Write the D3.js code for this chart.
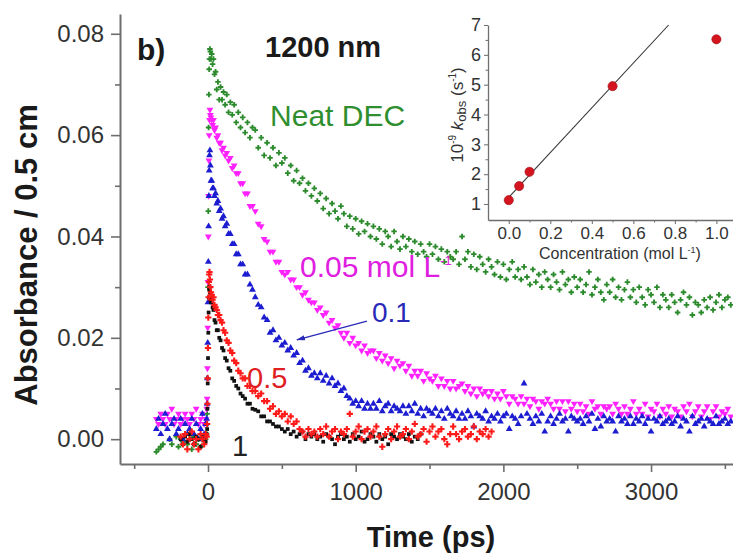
<!DOCTYPE html>
<html><head><meta charset="utf-8">
<script src="https://cdn.jsdelivr.net/npm/d3@7"></script>
<style>
body{margin:0;background:#fff}
svg{display:block}
text{font-family:"Liberation Sans",Arial,Helvetica,sans-serif}
</style>
</head><body>
<svg id="chart" width="733" height="554"></svg>
<script>
// ---------- DATA (time in ps, absorbance in units of 1e-3) ----------
const times = [
 -350,-335,-320,-305,-290,-275,-260,-245,-230,-215,-200,-185,-170,-155,-140,-125,-110,-95,-80,-65,-50,-38,-26,-16,-9,
 -6,-4,-2,0,2,4,6,8,10,13,16,20,
 25,31,37,44,51,59,67,76,85,95,105,116,127,139,151,164,177,191,205,220,235,251,267,284,301,
 320,340,360,380,400,420,440,460,480,500,
 520,540,560,580,600,620,640,660,680,700,
 720,740,760,780,800,820,840,860,880,900,
 920,940,960,980,1000,1020,1040,1060,1080,1100,
 1120,1140,1160,1180,1200,1220,1240,1260,1280,1300,
 1320,1340,1360,1380,1400,1420,1440,1460,1480,1500,
 1520,1540,1560,1580,1600,1620,1640,1660,1680,1700,
 1720,1740,1760,1780,1800,1820,1840,1860,1880,1900,
 1920,1940,1960,1980,2000,2020,2040,2060,2080,2100,
 2120,2140,2160,2180,2200,2220,2240,2260,2280,2300,
 2320,2340,2360,2380,2400,2420,2440,2460,2480,2500,
 2520,2540,2560,2580,2600,2620,2640,2660,2680,2700,
 2720,2740,2760,2780,2800,2820,2840,2860,2880,2900,
 2920,2940,2960,2980,3000,3020,3040,3060,3080,3100,
 3120,3140,3160,3180,3200,3220,3240,3260,3280,3300,
 3320,3340,3360,3380,3400,3420,3440,3460,3480,3500,
 3520,3540
];

const neatDEC = [
 -2.5,-2,-1.5,-1,null,null,0,-1,null,0.5,-1.5,0,-0.5,1,-1,0,-2,0.5,-1,0,-1.5,0.5,-0.5,0,1,
 5,12,18,30,45,61.5,68,73,75,77,76.5,75,
 76,74,75,72,72.5,69,70.5,67,69.5,67,68.5,66,68,64.5,66.5,64,66,62.5,64.5,61.5,63.5,60.5,62.5,59.5,61.5,
 61,57.5,59.5,56,58.5,55.5,57.5,54,56.5,54.5,
 55.5,52.5,54,51,53,50.5,51.5,49,50.5,48,
 49.5,47,48.5,45.5,47.5,44.5,46.5,45,43.5,46,
 44.5,42,44,41.5,43.5,40.5,43,41,42.5,40,
 42,39.5,41.5,38.5,41,40,38,41,39,37.5,
 40,38,39.5,37,39,36.5,38.5,37,36,38.5,
 36.5,38,35.5,37.5,35,37,36,35.5,37,34.5,
 40,35.5,37,34,36.5,33.5,36,34.5,33,35.5,
 34,32.5,35,32,34.5,31.5,33.5,35,32,33.5,
 31.5,34,32,30.5,33.5,31,32.5,30,33,31.5,
 30,32.5,31,29.5,33,30.5,31.5,29,32,30,
 31.5,29,30.5,33,28.5,30,31.5,29,27.5,30.5,
 29,31.5,28,30,27.5,29.5,31,28,29.5,27,
 30,28,26.5,29.5,28.5,27,30,26,28.5,27.5,
 26,28.5,27,25,27.5,29,26.5,28,24.5,27,
 26.5,25,27.5,26,28,25.5,27,28.5,26,27.5,
 28,26.5
];

const conc005 = [
 4,3,5,4,3,5,4,6,3,4,5,3,4,5,4,3,5,4,6,3,4,5,3,4,6,
 8,14,22,31,40,48,55,60,63,65,64,63.5,
 63,62,63,61,61.5,59.5,60,58.5,58.5,57,57.5,56,56.5,55,55.5,53.5,54,52.5,52.5,50.5,50.5,48.5,48.5,46,46,
 45,42.5,42,39.5,39,37,37,35,35,33,
 32.5,33,31.5,31.5,30,30,28.5,29,27.5,27,
 27,25.5,26,24.5,25,23,23.5,22,22.5,21,
 20,21,19,20,18.5,19,17.5,18.5,17,17.5,
 17.5,16,17,15.5,16.5,15,16,14,15.5,14.5,
 15,13.5,14.5,12.5,13.5,12.5,13.5,11.5,13,12,
 11.5,12.5,10.5,12,10.5,11.5,10,11.5,10,10.5,
 11,9.5,10.5,9,10,8.5,10,9,9.5,8.5,
 9.5,8,9,8,9.5,8.5,7,8.5,8,7,
 8.5,7,8,6.5,8,7.5,6,7.5,7,8,
 7,6,7.5,6,7.5,5.5,7.5,6,7,5.5,
 7,5.5,6.5,5,7.5,6,6.5,5,6.5,6,
 6.5,5,7,6,5,6.5,5,6,7.5,5,
 6,5,7,4.5,6,5.5,7,4.5,6,5,
 6.5,4.5,6,5.5,4.5,6.5,5.5,7,4.5,5.5,
 6.5,4.5,5.5,6.5,4,5.5,6.5,4.5,5.5,5,
 6,4.5
];

const conc01 = [
 2,4,1,3,5,2,0,3,4,1,2,4,0,3,1,2,4,1,3,0,2,5,1,3,4,
 7,12,19,27,35,42,48,53,56,57,54,51,
 51,49.5,49.5,48,48.5,46.5,47,45,45.5,43.5,44,42,42.5,40.5,40.5,38.5,38.5,36.5,36.5,34.5,34.5,32.5,32.5,30.5,29.5,
 28,26.5,26,24,23.5,21,21.5,19.5,20,18.5,
 19,17.5,18,16.5,17,15,15.5,13.5,14,12.5,
 13,12,13,11.5,12.5,11,12,10.5,11,9.5,
 10,8.5,8,7,7.5,6.5,7.5,6,7,6,
 7,6,7.5,5.5,6.5,7,5.5,6.5,6,5.5,
 6.5,5,6.5,5.5,7,5,6,4.5,6,5.5,
 5,6,4.5,5.5,4,6,5,4.5,5.5,4,
 5,4,5.5,4.5,2.5,5,4.5,4,5.5,3.5,
 4.5,4,5,3.5,4.5,5,2,4.5,4,3,
 4.5,11,5,4,3,4.5,3.5,5,1.5,3.5,
 4.5,3,4,5,3.5,4,1.5,4.5,4,3.5,
 4,3,4.5,3.5,5,2,4,2.5,4.5,3.5,
 4,3.5,1.5,4.5,3.5,4,3,4.5,3,4,
 3.5,4.5,3,4,1.5,4,3.5,4.5,3,3.5,
 4,3,3.5,4.5,2.5,4,3.5,1.5,4.5,3,
 3.5,4,2.5,4,3.5,3,4.5,3,3.5,4,
 3,3.5
];

const conc05 = [
 null,null,null,null,null,null,null,null,null,null,null,0.5,-1,1,-2,0,1.5,-1,0,-2,1,0,-1,1,0.5,
 3,7,12,18,24,28,31,32.5,33,31.5,30,29,
 28.5,27.5,28,26.5,26,25.5,24.5,24.5,23.5,23,21.5,21,19.5,19,17.5,17,15.5,15,13.5,13,12,12,10.5,10.5,9.5,
 9.5,8.5,9,7.5,7.5,6,6.5,5,5.5,4.5,
 5,3.5,4.5,3,3.5,2,1.5,0.5,2,1,
 1.5,0.5,2,1,2.5,0.5,1.5,2,0,1.5,
 1,2,5,0.5,1.5,2.5,0,1.5,2,0.5,
 1.5,2.5,0.5,-1.5,1,2,0,1.5,2.5,0.5,
 1,2,0,1.5,3,0.5,1,2,-0.5,1.5,
 2.5,0.5,1.5,2,0,-1,1,2.5,1,0,
 1.5,2,0.5,1,2.5,0,1.5,1,2,0.5,
 1.5
];

const conc1 = [
 null,null,null,null,null,null,null,null,null,null,null,0,-1,0.5,-0.5,1,0,-1,0.5,0,-1.5,0.5,0,-0.5,1,
 2,6,11,16,21,25,28,29.5,30,29,27.5,27,
 27,26,25.5,23.5,23,21.5,21.5,20,19.5,18,17.5,16,15.5,14,13.5,12,11.5,10.5,10,9,8.5,8,7,7,6,
 5.8,5.5,4.5,4.5,3.5,3.5,3,2.5,2.5,2,
 1.5,2,1,1.5,0.5,1,1.5,0,1,0.5,
 1,0,0.5,-0.5,1,0.5,0,-1,0.5,1,
 0,0.5,-0.5,1,0,0.5,1.5,-0.5,0,1,
 0.5,-0.5,1,0,0.5,-1,1,0.5,0,1,
 0.5,0,1,-0.5,0.5,0,1
];

const xTicks = [0, 1000, 2000, 3000];
const xMinorTicks = [-500, 500, 1500, 2500, 3500];
const yTicks = [0, 0.02, 0.04, 0.06, 0.08];
const yMinorTicks = [0.01, 0.03, 0.05, 0.07];

// inset: k_obs vs concentration
const insetConc = [0, 0.05, 0.1, 0.5, 1.0];
const insetKobs = [1.13, 1.6, 2.08, 4.95, 6.52];
const insetFitConc = [0, 0.77];
const insetFitKobs = [1.22, 7.0];
const insetXTicks = [0, 0.2, 0.4, 0.6, 0.8, 1.0];
const insetXMinor = [0.1, 0.3, 0.5, 0.7, 0.9];
const insetYTicks = [1, 2, 3, 4, 5, 6, 7];
const insetYMinor = [1.5, 2.5, 3.5, 4.5, 5.5, 6.5];

// ---------- DRAWING ----------
const svg = d3.select("#chart");
svg.append("rect").attr("width", 733).attr("height", 554).attr("fill", "#fff");

const M = {left: 120, right: 733, top: 14, bottom: 464};
const x = d3.scaleLinear().domain([-596, 3555]).range([M.left, M.right]);
const y = d3.scaleLinear().domain([-0.0049, 0.0839]).range([M.bottom, M.top]);
const unit = 1e-3;

const axisColor = "#6e6e6e";
const labelColor = "#333";

function styleAxis(g, width) {
  g.select(".domain").attr("stroke", axisColor).attr("stroke-width", width);
  g.selectAll(".tick line").attr("stroke", axisColor).attr("stroke-width", width * 0.8);
  g.selectAll(".tick text").attr("fill", labelColor);
}

// main axes
const gx = svg.append("g").attr("transform", `translate(0,${M.bottom})`)
  .call(d3.axisBottom(x).tickValues(xTicks).tickSize(8).tickSizeOuter(0).tickPadding(11).tickFormat(d3.format("d")));
gx.selectAll(".tick text").attr("font-size", 24);
styleAxis(gx, 2);
const gxm = svg.append("g").attr("transform", `translate(0,${M.bottom})`)
  .call(d3.axisBottom(x).tickValues(xMinorTicks).tickSize(5).tickSizeOuter(0).tickFormat(""));
gxm.select(".domain").remove();
gxm.selectAll(".tick line").attr("stroke", axisColor).attr("stroke-width", 1.6);

const gy = svg.append("g").attr("transform", `translate(${M.left},0)`)
  .call(d3.axisLeft(y).tickValues(yTicks).tickSize(9).tickSizeOuter(0).tickPadding(7).tickFormat(d3.format(".2f")));
gy.selectAll(".tick text").attr("font-size", 24);
styleAxis(gy, 2);
const gym = svg.append("g").attr("transform", `translate(${M.left},0)`)
  .call(d3.axisLeft(y).tickValues(yMinorTicks).tickSize(5).tickSizeOuter(0).tickFormat(""));
gym.select(".domain").remove();
gym.selectAll(".tick line").attr("stroke", axisColor).attr("stroke-width", 1.6);

// axis titles
svg.append("text").attr("x", 431).attr("y", 547).attr("text-anchor", "middle")
  .attr("font-size", 29).attr("font-weight", "bold").attr("fill", "#1a1a1a").text("Time (ps)");
svg.append("text").attr("transform", "translate(37,255) rotate(-90)").attr("text-anchor", "middle")
  .attr("font-size", 31).attr("font-weight", "bold").attr("fill", "#1a1a1a").text("Absorbance / 0.5 cm");

// series
const seriesList = [
  {values: neatDEC, color: "#2b8a2b", symbol: d3.symbolCross, size: 17, rot: 0},
  {values: conc005, color: "#ff22ff", symbol: d3.symbolTriangle, size: 20, rot: 180},
  {values: conc01,  color: "#1c1cd0", symbol: d3.symbolTriangle, size: 20, rot: 0},
  {values: conc1,   color: "#111111", symbol: d3.symbolSquare, size: 14, rot: 0},
  {values: conc05,  color: "#ff1a1a", symbol: d3.symbolCross, size: 22, rot: 0}
];
const plot = svg.append("g");
seriesList.forEach(s => {
  const pts = s.values.map((v, i) => ({t: times[i], v}))
    .filter(d => d.v !== null && d.v !== undefined && d.t !== undefined);
  const path = d3.symbol().type(s.symbol).size(s.size)();
  plot.append("g").selectAll("path").data(pts).join("path")
    .attr("d", path)
    .attr("transform", d => `translate(${x(d.t)},${y(d.v * unit)}) rotate(${s.rot})`)
    .attr("fill", s.color);
});

// annotations
svg.append("text").attr("x", 137).attr("y", 60).attr("font-size", 30).attr("font-weight", "bold")
  .attr("fill", "#1a1a1a").text("b)");
svg.append("text").attr("x", 265).attr("y", 57).attr("font-size", 29).attr("font-weight", "bold")
  .attr("fill", "#1a1a1a").text("1200 nm");

svg.append("text").attr("x", x(420)).attr("y", y(0.0618)).attr("font-size", 30)
  .attr("fill", "#2f8f2f").text("Neat DEC");
const t005 = svg.append("text").attr("x", x(623)).attr("y", y(0.032)).attr("font-size", 30)
  .attr("fill", "#e020e0");
t005.append("tspan").text("0.05 mol L");
t005.append("tspan").attr("dy", -12).attr("font-size", 13).text("-1");
svg.append("text").attr("x", x(1110)).attr("y", y(0.0231)).attr("font-size", 28)
  .attr("fill", "#2a2ab8").text("0.1");
svg.append("text").attr("x", x(264)).attr("y", y(0.0101)).attr("font-size", 29)
  .attr("fill", "#e02020").text("0.5");
svg.append("text").attr("x", x(162)).attr("y", y(-0.0033)).attr("font-size", 29)
  .attr("fill", "#222").text("1");

// arrow to 0.1 curve
svg.append("defs").append("marker").attr("id", "ah").attr("viewBox", "0 0 10 6")
  .attr("refX", 9).attr("refY", 3).attr("markerWidth", 9).attr("markerHeight", 6)
  .attr("markerUnits", "userSpaceOnUse").attr("orient", "auto")
  .append("path").attr("d", "M0,0 L10,3 L0,6 Z").attr("fill", "#2a2ab8");
svg.append("line").attr("x1", x(1076)).attr("y1", y(0.0233)).attr("x2", x(602)).attr("y2", y(0.0196))
  .attr("stroke", "#2a2ab8").attr("stroke-width", 1.3).attr("marker-end", "url(#ah)");

// ---------- INSET ----------
const I = {left: 488, right: 733, top: 25, bottom: 220};
const ix = d3.scaleLinear().domain([-0.1, 1.08]).range([I.left, I.right]);
const iy = d3.scaleLinear().domain([0.464, 7.0]).range([I.bottom, I.top]);
const inset = svg.append("g");
inset.append("rect").attr("x", I.left).attr("y", 0).attr("width", I.right - I.left).attr("height", I.bottom)
  .attr("fill", "#fff");

const igx = inset.append("g").attr("transform", `translate(0,${I.bottom})`)
  .call(d3.axisBottom(ix).tickValues(insetXTicks).tickSize(4).tickSizeOuter(0).tickPadding(3).tickFormat(d3.format(".1f")));
igx.selectAll(".tick text").attr("font-size", 17);
styleAxis(igx, 1.3);
const igxm = inset.append("g").attr("transform", `translate(0,${I.bottom})`)
  .call(d3.axisBottom(ix).tickValues(insetXMinor).tickSize(2.5).tickSizeOuter(0).tickFormat(""));
igxm.select(".domain").remove();
igxm.selectAll(".tick line").attr("stroke", axisColor);

const igy = inset.append("g").attr("transform", `translate(${I.left},0)`)
  .call(d3.axisLeft(iy).tickValues(insetYTicks).tickSize(4).tickSizeOuter(0).tickPadding(3).tickFormat(d3.format("d")));
igy.selectAll(".tick text").attr("font-size", 18);
styleAxis(igy, 1.3);
const igym = inset.append("g").attr("transform", `translate(${I.left},0)`)
  .call(d3.axisLeft(iy).tickValues(insetYMinor).tickSize(2.5).tickSizeOuter(0).tickFormat(""));
igym.select(".domain").remove();
igym.selectAll(".tick line").attr("stroke", axisColor);

inset.append("line")
  .attr("x1", ix(insetFitConc[0])).attr("y1", iy(insetFitKobs[0]))
  .attr("x2", ix(insetFitConc[1])).attr("y2", iy(insetFitKobs[1]))
  .attr("stroke", "#333").attr("stroke-width", 1.1);

inset.append("g").selectAll("circle").data(insetConc.map((c, i) => ({c, k: insetKobs[i]}))).join("circle")
  .attr("cx", d => ix(d.c)).attr("cy", d => iy(d.k)).attr("r", 4.6)
  .attr("fill", "#d4141e").attr("stroke", "#a01018").attr("stroke-width", 0.6);

const ixl = inset.append("text").attr("x", 620).attr("y", 259).attr("text-anchor", "middle")
  .attr("font-size", 16).attr("fill", labelColor);
ixl.append("tspan").text("Concentration (mol L");
ixl.append("tspan").attr("dy", -6).attr("font-size", 9).text("-1");
ixl.append("tspan").attr("dy", 6).text(")");

const iyl = inset.append("text").attr("transform", "translate(463,115) rotate(-90)")
  .attr("text-anchor", "middle").attr("font-size", 17).attr("fill", labelColor);
iyl.append("tspan").text("10");
iyl.append("tspan").attr("dy", -7).attr("font-size", 10).text("-9");
iyl.append("tspan").attr("dy", 7).text(" ");
iyl.append("tspan").attr("font-style", "italic").text("k");
iyl.append("tspan").attr("dy", 3).attr("font-size", 13).text("obs");
iyl.append("tspan").attr("dy", -3).text(" (s");
iyl.append("tspan").attr("dy", -7).attr("font-size", 10).text("-1");
iyl.append("tspan").attr("dy", 7).text(")");
</script>
</body></html>
